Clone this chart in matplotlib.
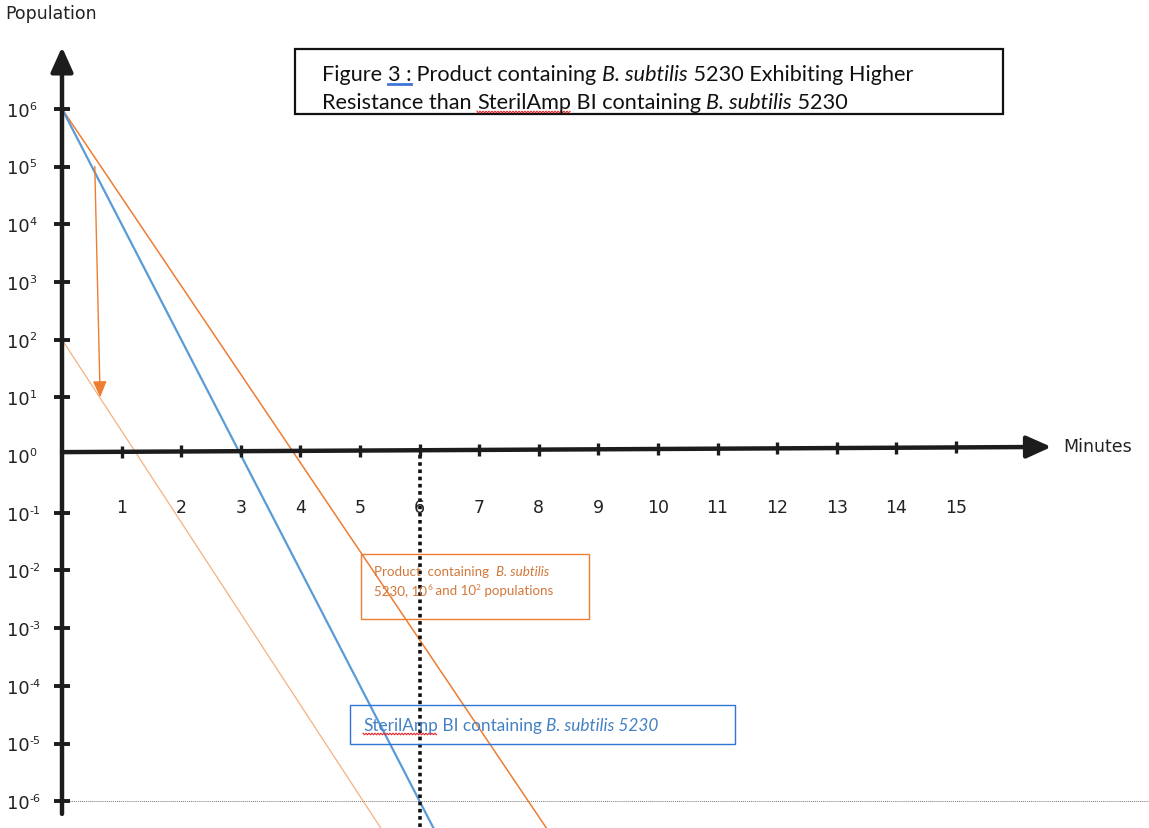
import numpy as np
import matplotlib
matplotlib.use("Agg")
import matplotlib.pyplot as plt
from matplotlib.patches import Rectangle
from matplotlib.transforms import Affine2D

# ---------------- data ----------------
minute_ticks = list(range(1, 16))
decade_ticks = [6, 5, 4, 3, 2, 1, 0, -1, -2, -3, -4, -5, -6]

sterilamp_minutes = [0.0, 6.25]
sterilamp_pop = [1e6, 10 ** -6.5]

product_hi_minutes = [0.0, 8.15]
product_hi_pop = [1e6, 10 ** -6.5]

product_lo_minutes = [0.0, 5.37]
product_lo_pop = [1e2, 10 ** -6.5]

marker_minute = 6
limit_pop = 1e-6

shift_minutes = [0.55, 0.64]
shift_pop = [1e5, 1e1]

# ---------------- style ----------------
plt.rcParams["font.family"] = ["DejaVu Sans"]

W, H = 1149, 829
fig = plt.figure(figsize=(W / 100, H / 100), dpi=100)
ax = fig.add_axes([0, 0, 1, 1])
ax.set_yscale("log")
PX_MIN, X0 = 59.6, 62
DEC, Y0 = 57.7, 456
ax.set_xlim(-X0 / PX_MIN, (W - X0) / PX_MIN)
ax.set_ylim(10 ** (-(H - Y0) / DEC), 10 ** (Y0 / DEC))
ax.axis("off")

pix = Affine2D().scale(1 / W, -1 / H).translate(0, 1) + fig.transFigure
renderer = fig.canvas.get_renderer()

AX = "#1c1c1c"
BLUE = "#5b9bd5"
ORANGE = "#ed7d31"
ORANGE_LT = "#f4b183"


def rich(x, y, parts, size, color, family="Lato"):
    """Place text pieces one after another on a baseline (pixel coords).
    parts: list of (text, kind) where kind in {'', 'i', 's'}; returns extents."""
    cx = x
    spans = []
    for s, kind in parts:
        fs = size * 0.62 if kind == "s" else size
        dy = -size * 0.55 if kind == "s" else 0
        t = fig.text(cx, y + dy, s, transform=pix, fontsize=fs, family=family,
                     style="italic" if kind == "i" else "normal", ha="left",
                     va="baseline", color=color)
        w = t.get_window_extent(renderer).width
        spans.append((cx, cx + w))
        cx += w
    return spans


def squiggle(x0, x1, y, color="#e0262b"):
    xs = np.arange(x0, x1 + 0.1, 1.5)
    ys = y + np.where(np.arange(len(xs)) % 2 == 0, -0.8, 0.8)
    fig.add_artist(plt.Line2D(xs, ys, transform=pix, color=color, lw=0.8))


# data lines
ax.plot(product_lo_minutes, product_lo_pop, color=ORANGE_LT, lw=0.9, zorder=2)
ax.plot(product_hi_minutes, product_hi_pop, color=ORANGE, lw=1.1, zorder=2)
ax.plot(sterilamp_minutes, sterilamp_pop, color=BLUE, lw=1.6, zorder=2)

# limit line & marker line
ax.plot([0, 20], [limit_pop, limit_pop], color="#777777", lw=0.7, ls=(0, (1, 1)), zorder=1)
ax.plot([marker_minute, marker_minute], [1, 1e-8], color="#111111", lw=2.6,
        ls=(0, (1, 1)), zorder=3)

# shift arrow
ax.annotate("", xy=(shift_minutes[1], shift_pop[1]), xytext=(shift_minutes[0], shift_pop[0]),
            arrowprops=dict(arrowstyle="-|>,head_length=0.7,head_width=0.3", lw=1.0,
                            color=ORANGE, shrinkA=0, shrinkB=0, mutation_scale=14), zorder=4)

# axes with arrows
x_end = 16.6
x_rise = 0.14
ax.annotate("", xy=(0, 10 ** 7.07), xytext=(0, 10 ** -6.22),
            arrowprops=dict(arrowstyle="-|>,head_length=1.0,head_width=0.45", lw=3.2,
                            color=AX, shrinkA=0, shrinkB=0, mutation_scale=15), zorder=5)
ax.annotate("", xy=(x_end, 10 ** x_rise), xytext=(0, 10 ** 0.05),
            arrowprops=dict(arrowstyle="-|>,head_length=1.0,head_width=0.45", lw=3.2,
                            color=AX, shrinkA=0, shrinkB=0, mutation_scale=15), zorder=5)

# y ticks
yt = [d for d in decade_ticks if d != 0]
ax.plot([0] * len(yt), [10.0 ** d for d in yt], ls="none", marker="_", ms=11,
        mew=2.8, color=AX, zorder=6)
for d in decade_ticks:
    ypx = H - ax.transData.transform((0, 10.0 ** d))[1]
    rich(7, ypx + 7, [("10", ""), (str(d), "s")], 13, "#222222",
         family="DejaVu Sans")

# x ticks
xt_y = [10 ** (0.05 + (x_rise - 0.05) * m / x_end) for m in minute_ticks]
ax.plot(minute_ticks, xt_y, ls="none", marker="|", ms=9, mew=2.4, color=AX, zorder=6)
for m in minute_ticks:
    ax.text(m, 10 ** -0.9, str(m), fontsize=12.5, ha="center", va="center",
            color="#222222")

# axis titles
fig.text(5, 14, "Population", transform=pix, fontsize=12.5, ha="left", va="center",
         color="#222222")
fig.text(1063, 447, "Minutes", transform=pix, fontsize=12.5, ha="left", va="center",
         color="#222222")

# title box
fig.patches.append(Rectangle((295, 50), 708, 65, transform=pix, fill=False,
                             ec="#111111", lw=1.6))
TS = 15.6
sp1 = rich(322, 81, [("Figure ", ""), ("3 :", ""), (" Product containing ", ""),
                     ("B. subtilis", "i"), (" 5230 Exhibiting Higher", "")], TS, "#111111")
fig.add_artist(plt.Line2D([sp1[1][0], sp1[1][1]], [85, 85], transform=pix,
                          color="#3c78d8", lw=2.0))
sp2 = rich(322, 109, [("Resistance than ", ""), ("SterilAmp", ""),
                      (" BI containing ", ""), ("B. subtilis", "i"), (" 5230", "")],
           TS, "#111111")
squiggle(sp2[1][0], sp2[1][1], 113)

# orange legend box
fig.patches.append(Rectangle((361, 555), 228, 65, transform=pix, fill=False,
                             ec=ORANGE, lw=1.0))
OC = "#d2773a"
rich(374, 576, [("Product  containing  ", ""), ("B. subtilis", "i")], 9.6, OC)
rich(374, 595, [("5230, 10", ""), ("6", "s"), (" and 10", ""), ("2", "s"),
                (" populations", "")], 9.6, OC)

# blue legend box
fig.patches.append(Rectangle((350, 706), 385, 39, transform=pix, fill=False,
                             ec="#2e75d6", lw=1.0))
sp3 = rich(363, 731, [("SterilAmp", ""), (" BI containing ", ""),
                      ("B. subtilis 5230", "i")], 12.4, "#4480c4")
squiggle(sp3[0][0], sp3[0][1], 735)

fig.savefig("out.png", dpi=100)
